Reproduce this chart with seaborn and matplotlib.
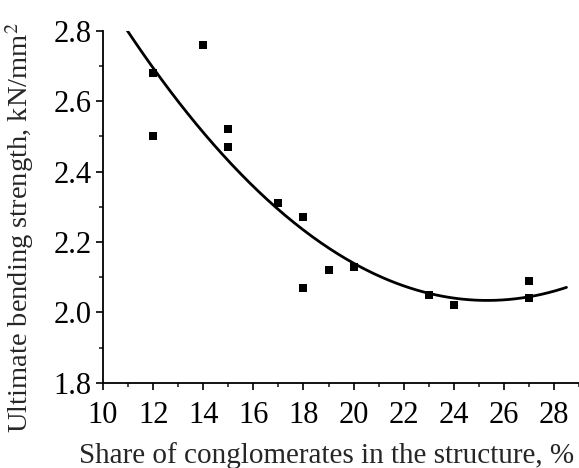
import numpy as np
import pandas as pd
import matplotlib.pyplot as plt
import seaborn as sns
from matplotlib.ticker import MultipleLocator

# share of conglomerates, % / ultimate bending strength, kN/mm2
share = [12, 12, 14, 15, 15, 17, 18, 18, 19, 20, 23, 24, 27, 27]
strength = [2.68, 2.50, 2.76, 2.52, 2.47, 2.31, 2.27, 2.07, 2.12, 2.13, 2.05, 2.02, 2.09, 2.04]

df = pd.DataFrame({"share": share, "strength": strength})

# quadratic trend line
coef = np.polyfit(df["share"], df["strength"], 2)
xs = np.linspace(10.9, 28.5, 200)
fit = pd.DataFrame({"share": xs, "strength": np.polyval(coef, xs)})

sns.set_style("ticks")
plt.rcParams["font.family"] = ["Liberation Serif", "DejaVu Serif"]
plt.rcParams["mathtext.fontset"] = "stix"

fig = plt.figure(figsize=(5.79, 4.68), dpi=100)
ax = fig.add_axes([0.178, 0.182, 0.822, 0.752])

sns.lineplot(data=fit, x="share", y="strength", color="black", linewidth=2, ax=ax)
sns.scatterplot(data=df, x="share", y="strength", marker="s", s=40, color="black",
                edgecolor="black", linewidth=0, ax=ax, zorder=3)

ax.set_xlim(10, 29)
ax.set_ylim(1.8, 2.8)
ax.xaxis.set_major_locator(MultipleLocator(2))
ax.xaxis.set_minor_locator(MultipleLocator(1))
ax.yaxis.set_major_locator(MultipleLocator(0.2))
ax.yaxis.set_minor_locator(MultipleLocator(0.1))
ax.tick_params(which="major", direction="out", length=5, width=1.2, labelsize=22,
               colors="black", pad=3)
ax.tick_params(axis="x", which="major", pad=8)
ax.tick_params(which="minor", direction="out", length=3, width=1.2)
ax.yaxis.set_major_formatter(plt.FuncFormatter(lambda v, p: f"{v:.1f}"))

for side in ["top", "right"]:
    ax.spines[side].set_visible(False)
for side in ["left", "bottom"]:
    ax.spines[side].set_linewidth(1.3)
    ax.spines[side].set_color("black")

ax.set_xlabel("Share of conglomerates in the structure, %", fontsize=21)
ax.set_ylabel("Ultimate bending strength, kN/mm$^2$", fontsize=20.5)
ax.xaxis.set_label_coords(0.47, -0.168)
ax.yaxis.set_label_coords(-0.14, 0.44)

fig.savefig("out.png", dpi=100)
